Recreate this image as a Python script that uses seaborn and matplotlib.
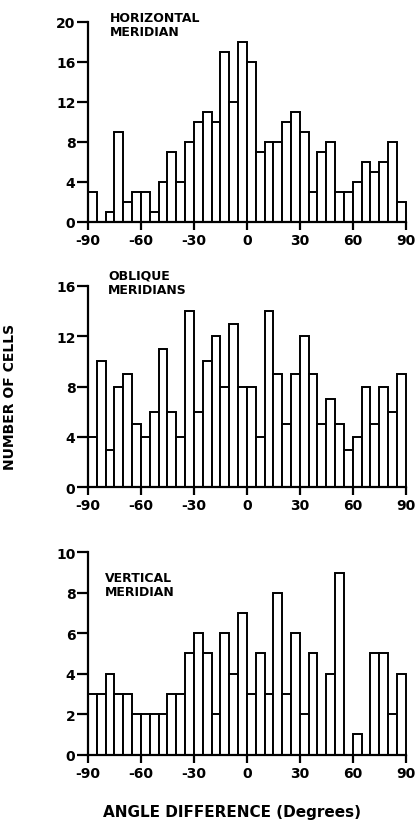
import numpy as np
import pandas as pd
import matplotlib
matplotlib.use("Agg")
import matplotlib.pyplot as plt
import seaborn as sns

# bin left edges (5-degree bins from -90 to 90)
bin_left = list(range(-90, 90, 5))

horizontal = [3, 0, 1, 9, 2, 3, 3, 1, 4, 7, 4, 8, 10, 11, 10, 17, 12, 18,
              16, 7, 8, 8, 10, 11, 9, 3, 7, 8, 3, 3, 4, 6, 5, 6, 8, 2]
oblique = [4, 10, 3, 8, 9, 5, 4, 6, 11, 6, 4, 14, 6, 10, 12, 8, 13, 8,
           8, 4, 14, 9, 5, 9, 12, 9, 5, 7, 5, 3, 4, 8, 5, 8, 6, 9]
vertical = [3, 3, 4, 3, 3, 2, 2, 2, 2, 3, 3, 5, 6, 5, 2, 6, 4, 7,
            3, 5, 3, 8, 3, 6, 2, 5, 0, 4, 9, 0, 1, 0, 5, 5, 2, 4]

titles = ["HORIZONTAL\nMERIDIAN", "OBLIQUE\nMERIDIANS", "VERTICAL\nMERIDIAN"]
yticks = [[0, 4, 8, 12, 16, 20], [0, 4, 8, 12, 16], [0, 2, 4, 6, 8, 10]]
xticks = [-90, -60, -30, 0, 30, 60, 90]
xlabel = "ANGLE DIFFERENCE (Degrees)"
ylabel = "NUMBER OF CELLS"

sns.set_style("white")
plt.rcParams["font.family"] = ["DejaVu Sans"]
plt.rcParams["font.weight"] = "bold"
plt.rcParams["text.color"] = "black"

W, H = 418, 829
fig = plt.figure(figsize=(W / 100, H / 100), dpi=100)

# axes pixel boxes: (left, top, right, bottom)
boxes = [(88, 22.7, 407.5, 222.7), (88, 286.7, 407.5, 488.3), (88, 553.3, 407.5, 755.5)]
title_pos = [(110, 12), (108, 270), (105, 572)]

for i, (vals, box) in enumerate(zip([horizontal, oblique, vertical], boxes)):
    l, t, r, b = box
    ax = fig.add_axes([l / W, 1 - b / H, (r - l) / W, (b - t) / H])
    df = pd.DataFrame({"angle": np.array(bin_left, dtype=float) + 2.5,
                       "count": np.array(vals, dtype=float)})
    sns.histplot(data=df, x="angle", weights="count", binwidth=5,
                 binrange=(-90, 90), ax=ax,
                 element="bars", fill=True, color="white", edgecolor="black",
                 linewidth=1.4, alpha=1)
    ymax = yticks[i][-1]
    ax.set_xlim(-90, 91)
    ax.set_ylim(0, ymax)
    for p in ax.patches:
        p.set_clip_on(False)
    ax.set_xticks(xticks)
    ax.set_xticklabels([str(x) for x in xticks], fontsize=10, fontweight="bold")
    ax.set_yticks(yticks[i])
    ax.set_yticklabels([str(y) for y in yticks[i]], fontsize=10, fontweight="bold")
    ax.set_xlabel("")
    ax.set_ylabel("")
    for s in ["top", "right"]:
        ax.spines[s].set_visible(False)
    for s in ["left", "bottom"]:
        ax.spines[s].set_linewidth(1.6)
        ax.spines[s].set_color("black")
    ax.spines["bottom"].set_bounds(-90, 90)
    ax.tick_params(axis="y", direction="out", length=8, width=1.6,
                   color="black", labelcolor="black", pad=1, left=True)
    ax.tick_params(axis="x", direction="out", length=6, width=1.6,
                   color="black", labelcolor="black", pad=2, bottom=True)
    tx, ty = title_pos[i]
    fig.text(tx / W, 1 - ty / H, titles[i], ha="left", va="top",
             fontsize=9, fontweight="bold", linespacing=1.15, color="black")

fig.text(232 / W, 1 - 813 / H, xlabel, ha="center", va="center",
         fontsize=11, fontweight="bold", color="black")
fig.text(10 / W, 1 - 397 / H, ylabel, ha="center", va="center",
         rotation=90, fontsize=10, fontweight="bold", color="black")

fig.savefig("out.png", dpi=100, facecolor="white")
